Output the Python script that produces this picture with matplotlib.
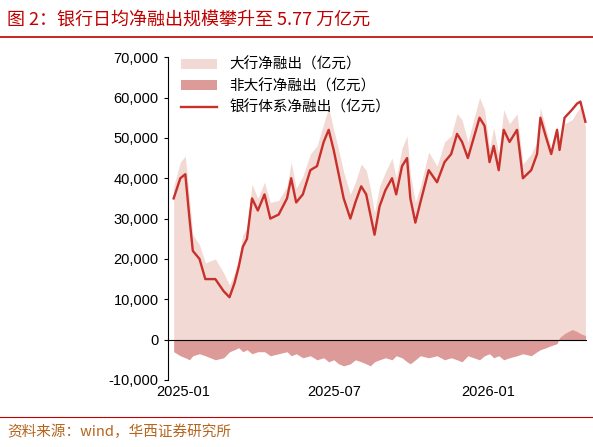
import matplotlib
matplotlib.use("Agg")
import matplotlib.pyplot as plt
import matplotlib.dates as mdates
import pandas as pd

plt.rcParams['font.family'] = ['Noto Sans CJK SC', 'DejaVu Sans']

dates = ["2024-12-20","2024-12-28","2025-01-03","2025-01-08","2025-01-12","2025-01-20","2025-01-27","2025-02-08",
"2025-02-18","2025-02-25","2025-03-03","2025-03-08","2025-03-13","2025-03-18","2025-03-24","2025-03-31",
"2025-04-08","2025-04-15","2025-04-25","2025-05-05","2025-05-10","2025-05-16","2025-05-24","2025-06-02",
"2025-06-10","2025-06-18","2025-06-24","2025-06-30","2025-07-06","2025-07-12","2025-07-20","2025-07-26",
"2025-08-02","2025-08-08","2025-08-13","2025-08-18","2025-08-24","2025-08-31","2025-09-08","2025-09-13",
"2025-09-20","2025-09-26","2025-09-30","2025-10-06","2025-10-12","2025-10-22","2025-11-01","2025-11-10",
"2025-11-18","2025-11-25","2025-12-01","2025-12-08","2025-12-15","2025-12-22","2025-12-28","2026-01-03",
"2026-01-08","2026-01-14","2026-01-20","2026-01-27","2026-02-05","2026-02-12","2026-02-22","2026-03-01",
"2026-03-05","2026-03-12","2026-03-18","2026-03-25","2026-03-28","2026-04-03","2026-04-12","2026-04-18",
"2026-04-22","2026-04-28"]
bank = [35000,40000,41000,30000,22000,20000,15000,15000,12000,10500,14000,18000,23000,25000,35000,32000,
36000,30000,31000,35000,40000,34000,36000,42000,43000,49000,52000,47000,41000,35000,30000,34000,
38000,36000,31000,26000,33000,37000,40000,36000,43000,45000,35000,29000,34000,42000,39000,44000,
46000,51000,49000,45000,50000,55000,53000,44000,48000,42000,52000,49000,52000,40000,42000,46000,
55000,50000,46000,52000,47000,55000,57000,58500,59000,54000]
nonbig = [-3000,-4000,-4500,-5000,-4000,-3500,-4000,-5000,-4500,-3000,-2500,-2000,-3000,-2500,-3500,-3000,
-3000,-4000,-3500,-3000,-4000,-3500,-4500,-4000,-5000,-4500,-5500,-5000,-6000,-6500,-6000,-5000,
-5500,-6000,-6500,-5500,-5000,-4500,-5000,-4000,-4500,-5500,-6000,-5000,-4000,-4500,-4000,-5000,
-4500,-5000,-5500,-4000,-4500,-5000,-4000,-3500,-4500,-4000,-5000,-4500,-4000,-3500,-4000,-3000,
-2500,-2000,-1500,-1000,500,1500,2500,2000,1500,1000]
big = [b - n for b, n in zip(bank, nonbig)]
x = pd.to_datetime(dates)

fig = plt.figure(figsize=(5.93, 4.47), dpi=100)
fig.text(0.012, 0.955, "图 2：银行日均净融出规模攀升至 5.77 万亿元", color="#c00000", fontsize=13, va="center")
fig.add_artist(plt.Line2D([0, 1], [0.918, 0.918], color="#c00000", lw=1.2))
fig.add_artist(plt.Line2D([0, 1], [0.068, 0.068], color="#c00000", lw=0.8))
fig.text(0.012, 0.035, "资料来源：wind，华西证券研究所", color="#b5651d", fontsize=10.5, va="center")

ax = fig.add_axes([0.283, 0.15, 0.707, 0.722])
ax.fill_between(x, 0, big, color="#f2d9d3", lw=0, label="大行净融出（亿元）")
ax.fill_between(x, 0, nonbig, color="#dc9a99", lw=0, label="非大行净融出（亿元）")
ax.plot(x, bank, color="#c8302c", lw=1.7, label="银行体系净融出（亿元）")
ax.set_ylim(-10000, 70000)
ax.set_yticks(range(-10000, 70001, 10000))
ax.yaxis.set_major_formatter(matplotlib.ticker.FuncFormatter(lambda v, p: f"{int(v):,}"))
ax.set_xlim(pd.Timestamp("2024-12-13"), pd.Timestamp("2026-04-30"))
ax.set_xticks(pd.to_datetime(["2025-01-01", "2025-07-01", "2026-01-01"]))
ax.xaxis.set_major_formatter(mdates.DateFormatter("%Y-%m"))
ax.axhline(0, color="black", lw=0.8)
for s in ["top", "right", "bottom"]:
    ax.spines[s].set_visible(False)
ax.tick_params(labelsize=10.5, length=0)
ax.tick_params(axis="y", length=3)
for lab in ax.get_xticklabels() + ax.get_yticklabels():
    lab.set_fontfamily("Liberation Sans")
ax.legend(loc="upper left", frameon=False, fontsize=10.5, bbox_to_anchor=(0.0, 1.04), handlelength=2.5)
fig.savefig("out.png", dpi=100)
